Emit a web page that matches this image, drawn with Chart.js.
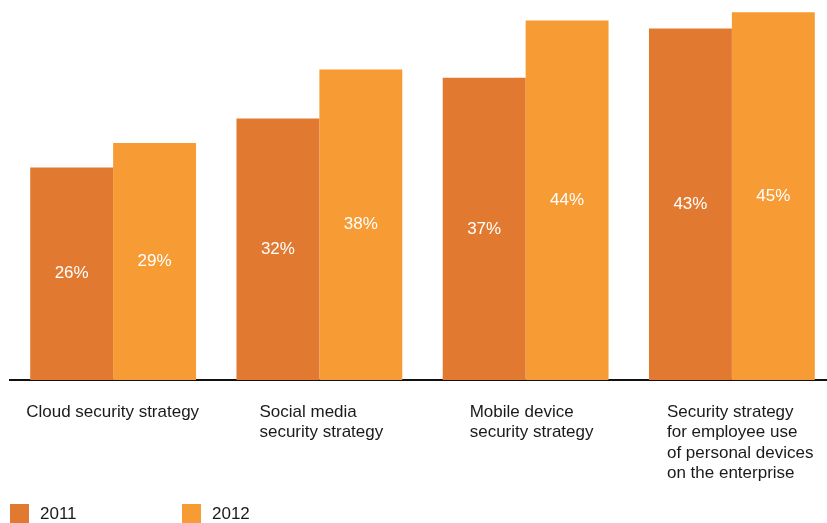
<!DOCTYPE html>
<html>
<head>
<meta charset="utf-8">
<script src="https://cdn.jsdelivr.net/npm/chart.js@4.4.1/dist/chart.umd.min.js"></script>
<style>
  html, body { margin: 0; padding: 0; background: #fff; overflow: hidden; }
  #wrap { width: 836px; height: 523px; }
</style>
</head>
<body>
<div id="wrap"><canvas id="chart" width="836" height="523"></canvas></div>
<script>
const categories = [
  ['Cloud security strategy'],
  ['Social media', 'security strategy'],
  ['Mobile device', 'security strategy'],
  ['Security strategy', 'for employee use', 'of personal devices', 'on the enterprise']
];
const years = ['2011', '2012'];
const values2011 = [26, 32, 37, 43];
const values2012 = [29, 38, 44, 45];
const colors = ['#E17A30', '#F79C34'];

const FONT = '17px "Liberation Sans", Arial, Helvetica, sans-serif';

// values written in the middle of each bar
const barValues = {
  id: 'barValues',
  afterDatasetsDraw(chart) {
    const ctx = chart.ctx;
    ctx.save();
    ctx.font = FONT;
    ctx.fillStyle = '#fff';
    ctx.textAlign = 'center';
    ctx.textBaseline = 'middle';
    chart.data.datasets.forEach((ds, di) => {
      chart.getDatasetMeta(di).data.forEach((bar, i) => {
        ctx.fillText(ds.data[i] + '%', bar.x, (bar.y + bar.base) / 2);
      });
    });
    ctx.restore();
  }
};

// category names under the axis, plus the legend at the bottom
const labelOffsets = [-4, 23, 27, 18];
const extras = {
  id: 'extras',
  afterDraw(chart) {
    const ctx = chart.ctx;
    const bottom = chart.chartArea.bottom;
    ctx.save();
    ctx.font = FONT;
    ctx.fillStyle = '#1a1a1a';
    ctx.textAlign = 'left';
    ctx.textBaseline = 'middle';
    const first = chart.getDatasetMeta(0).data;
    categories.forEach((lines, i) => {
      const left = first[i].x - first[i].width / 2 + labelOffsets[i];
      lines.forEach((line, k) => {
        ctx.fillText(line, left, bottom + 32 + k * 20.5);
      });
    });
    // legend
    const legendX = [10, 182];
    chart.data.datasets.forEach((ds, di) => {
      ctx.fillStyle = ds.backgroundColor;
      ctx.fillRect(legendX[di], 504, 19, 19);
      ctx.fillStyle = '#1a1a1a';
      ctx.fillText(ds.label, legendX[di] + 30, 514);
    });
    ctx.restore();
  }
};

new Chart(document.getElementById('chart'), {
  type: 'bar',
  data: {
    labels: categories,
    datasets: [
      { label: years[0], data: values2011, backgroundColor: colors[0] },
      { label: years[1], data: values2012, backgroundColor: colors[1] }
    ]
  },
  options: {
    responsive: false,
    animation: false,
    layout: { padding: { left: 10, right: 1, top: 0, bottom: 135 } },
    datasets: { bar: { categoryPercentage: 0.804, barPercentage: 1.0 } },
    scales: {
      x: {
        grid: { display: false },
        ticks: { display: false },
        border: { display: true, color: '#111', width: 2 }
      },
      y: { display: false, min: 0, max: 46.5 }
    },
    plugins: {
      legend: { display: false },
      tooltip: { enabled: false }
    }
  },
  plugins: [barValues, extras]
});
</script>
</body>
</html>
